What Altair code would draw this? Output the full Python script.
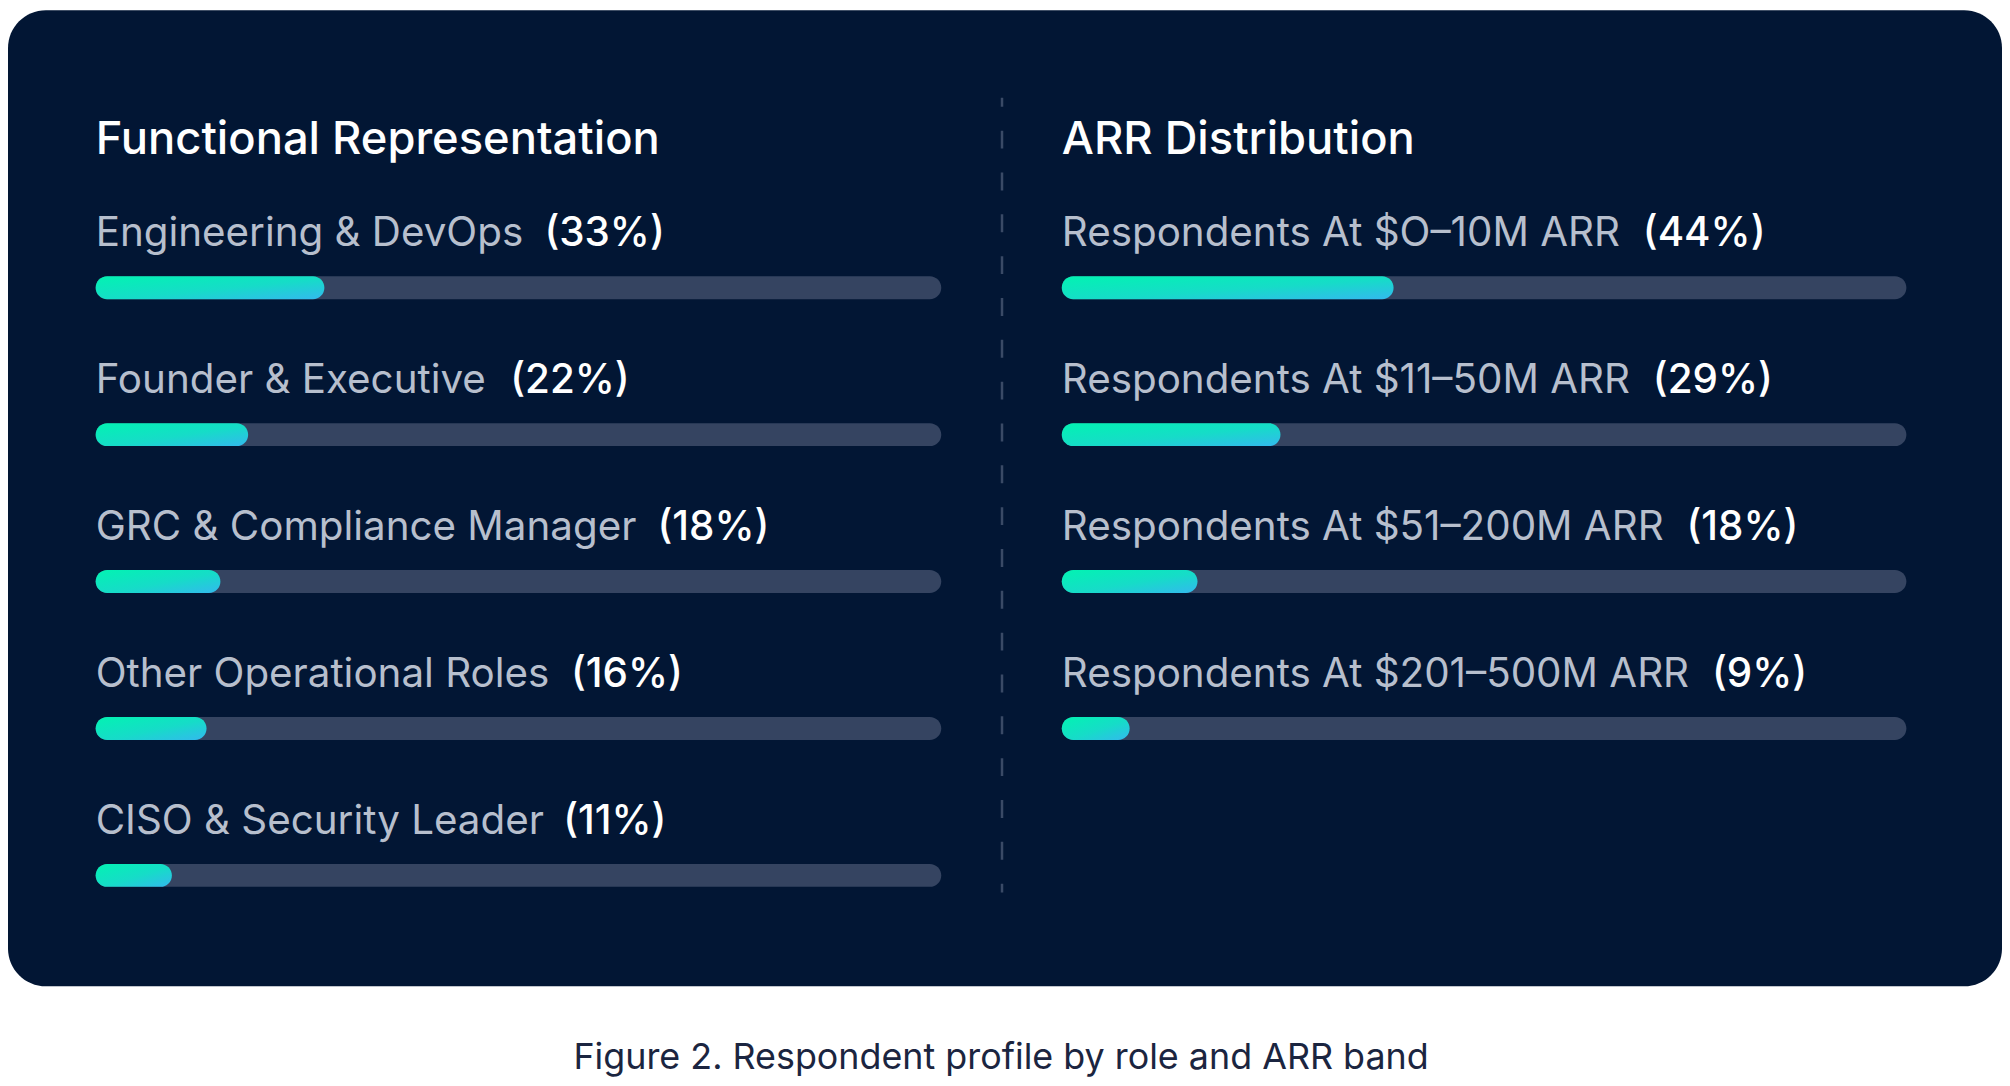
import os
import struct
import subprocess

import altair as alt
import pandas as pd

# ------------------------------------------------------------------ data
panel_titles = ["Functional Representation", "ARR Distribution"]

role_labels = [
    "Engineering & DevOps",
    "Founder & Executive",
    "GRC & Compliance Manager",
    "Other Operational Roles",
    "CISO & Security Leader",
]
role_pct = [33, 22, 18, 16, 11]

arr_labels = [
    "Respondents At $O–10M ARR",
    "Respondents At $11–50M ARR",
    "Respondents At $51–200M ARR",
    "Respondents At $201–500M ARR",
]
arr_pct = [44, 29, 18, 9]

caption_text = "Figure 2. Respondent profile by role and ARR band"

# ------------------------------------------------------------------ style
FONT = "Inter"
PANEL = "#021634"
TRACK = "#354461"
GREY = "#b7bfcd"
WHITE = "#ffffff"
DIVIDER = "#3a4a66"
CAPTION = "#1b2540"

LABEL_SIZE = 40.5
TITLE_SIZE = 45.5
CAPTION_SIZE = 36
BAR_H = 23
ROW0 = 273.7
ROW_STEP = 150
LABEL_DY = -41.7
TITLE_DY = 139.3 - ROW0
LEFT_RANGE = [88, 937]
RIGHT_RANGE = [1058, 1906]
LEFT_MAX = 122
RIGHT_MAX = 112


# ------------------------------------------------------------------ text measuring
def _u16(d, o):
    return struct.unpack(">H", d[o:o + 2])[0]


def _u32(d, o):
    return struct.unpack(">I", d[o:o + 4])[0]


class FontMetrics:
    def __init__(self, path):
        d = open(path, "rb").read()
        base = 0
        if d[:4] == b"ttcf":
            base = _u32(d, 12)
        n = _u16(d, base + 4)
        t = {}
        for i in range(n):
            r = base + 12 + 16 * i
            t[d[r:r + 4].decode("latin1")] = _u32(d, r + 8)
        self.upem = _u16(d, t["head"] + 18)
        nhm = _u16(d, t["hhea"] + 34)
        hm = t["hmtx"]
        self.adv = [_u16(d, hm + 4 * i) for i in range(nhm)]
        self.d = d
        self.sub = None
        cm = t["cmap"]
        subs = {}
        for i in range(_u16(d, cm + 2)):
            r = cm + 4 + 8 * i
            subs[(_u16(d, r), _u16(d, r + 2))] = cm + _u32(d, r + 4)
        for key in [(3, 10), (0, 4), (0, 6), (3, 1), (0, 3), (0, 2), (0, 1), (0, 0)]:
            if key in subs:
                so = subs[key]
                fmt = _u16(d, so)
                if fmt in (4, 12):
                    self.sub = (fmt, so)
                    break

    def glyph(self, ch):
        c = ord(ch)
        d = self.d
        fmt, so = self.sub
        if fmt == 12:
            ng = _u32(d, so + 12)
            for i in range(ng):
                g = so + 16 + 12 * i
                s, e, sg = _u32(d, g), _u32(d, g + 4), _u32(d, g + 8)
                if s <= c <= e:
                    return sg + c - s
            return 0
        segx2 = _u16(d, so + 6)
        ends = so + 14
        starts = ends + segx2 + 2
        deltas = starts + segx2
        ranges = deltas + segx2
        for i in range(segx2 // 2):
            e = _u16(d, ends + 2 * i)
            if c <= e:
                s = _u16(d, starts + 2 * i)
                if c < s:
                    return 0
                dl = _u16(d, deltas + 2 * i)
                ro = _u16(d, ranges + 2 * i)
                if ro == 0:
                    return (c + dl) & 0xFFFF
                gi = _u16(d, ranges + 2 * i + ro + 2 * (c - s))
                return (gi + dl) & 0xFFFF if gi else 0
        return 0

    def width(self, text, size):
        tot = 0
        for ch in text:
            g = self.glyph(ch)
            tot += self.adv[min(g, len(self.adv) - 1)]
        return tot * size / self.upem


def font_path(family, style="Regular"):
    try:
        out = subprocess.run(["fc-match", "-f", "%{file}", f"{family}:style={style}"],
                             capture_output=True, text=True, timeout=10).stdout.strip()
        if out and os.path.isfile(out):
            return out
    except Exception:
        pass
    return None


_cache = {}


def measure(text, size, family=FONT, style="Regular"):
    key = (family, style)
    if key not in _cache:
        try:
            p = font_path(family, style)
            _cache[key] = FontMetrics(p) if p else None
        except Exception:
            _cache[key] = None
    fm = _cache[key]
    if fm is None or fm.sub is None:
        return 0.55 * size * len(text)
    return fm.width(text, size)


# ------------------------------------------------------------------ tables
def make_table(labels, pcts, scale_max, rng):
    px_per_unit = (rng[1] - rng[0]) / scale_max
    gap = 0.52 * LABEL_SIZE
    return pd.DataFrame({
        "row": list(range(len(labels))),
        "label": labels,
        "pct": pcts,
        "pct_text": [f"({p}%)" for p in pcts],
        "start": 0,
        "full": scale_max,
        "pct_x": [(measure(l, LABEL_SIZE) + gap) / px_per_unit for l in labels],
    })


left_df = make_table(role_labels, role_pct, LEFT_MAX, LEFT_RANGE)
right_df = make_table(arr_labels, arr_pct, RIGHT_MAX, RIGHT_RANGE)

gradient = alt.Gradient(
    gradient="linear",
    stops=[alt.GradientStop(color="#02f3b2", offset=0),
           alt.GradientStop(color="#16dcc8", offset=0.55),
           alt.GradientStop(color="#33b9ee", offset=1)],
    x1=0, y1=0, x2=1, y2=1,
)


def group(df, title, scale_max, rng):
    xs = alt.Scale(domain=[0, scale_max], range=rng, nice=False, zero=True)
    ys = alt.Scale(domain=[0, 4], range=[ROW0, ROW0 + 4 * ROW_STEP], nice=False, zero=False)
    base = alt.Chart(df)
    x0 = alt.X("start:Q", scale=xs, axis=None)
    yy = alt.Y("row:Q", scale=ys, axis=None)
    track = base.mark_bar(orient="horizontal", size=BAR_H, cornerRadius=BAR_H / 2, color=TRACK).encode(
        x=x0, x2="full:Q", y=yy)
    fill = base.mark_bar(orient="horizontal", size=BAR_H, cornerRadius=BAR_H / 2, color=gradient).encode(
        x=x0, x2="pct:Q", y=yy)
    labels = base.mark_text(align="left", baseline="alphabetic", dy=LABEL_DY, font=FONT,
                            fontSize=LABEL_SIZE, color=GREY).encode(x=x0, y=yy, text="label:N")
    pcts = base.mark_text(align="left", baseline="alphabetic", dy=LABEL_DY, font=FONT,
                          fontSize=LABEL_SIZE, fontWeight=500, color=WHITE).encode(
        x=alt.X("pct_x:Q", scale=xs, axis=None), y=yy, text="pct_text:N")
    head = alt.Chart(pd.DataFrame({"t": [title], "start": [0], "row": [0]})).mark_text(
        align="left", baseline="alphabetic", dy=TITLE_DY, font=FONT, fontSize=TITLE_SIZE,
        fontWeight=500, color=WHITE).encode(x=x0, y=yy, text="t:N")
    return alt.layer(track, fill, labels, pcts, head)


one = pd.DataFrame({"k": [0]})
panel = alt.Chart(one).mark_rect(color=PANEL, cornerRadius=38).encode(
    x=alt.value(0), x2=alt.value(2002), y=alt.value(0), y2=alt.value(980))
divider = alt.Chart(one).mark_rule(color=DIVIDER, strokeWidth=2.5, strokeDash=[18, 24],
                                   strokeDashOffset=9).encode(
    x=alt.value(998), y=alt.value(88), y2=alt.value(886))
caption = alt.Chart(pd.DataFrame({"t": [caption_text]})).mark_text(
    align="center", baseline="alphabetic", font=FONT, fontSize=CAPTION_SIZE, color=CAPTION).encode(
    x=alt.value(997), y=alt.value(1063), text="t:N")

chart = alt.layer(
    panel, divider,
    group(left_df, panel_titles[0], LEFT_MAX, LEFT_RANGE),
    group(right_df, panel_titles[1], RIGHT_MAX, RIGHT_RANGE),
    caption,
).resolve_scale(x="independent").properties(
    width=2002, height=1076, autosize=alt.AutoSizeParams(type="none"), padding=0,
    background="white",
).configure_view(strokeWidth=0)

chart.save("out.html", embed_options={"renderer": "svg", "actions": False})
